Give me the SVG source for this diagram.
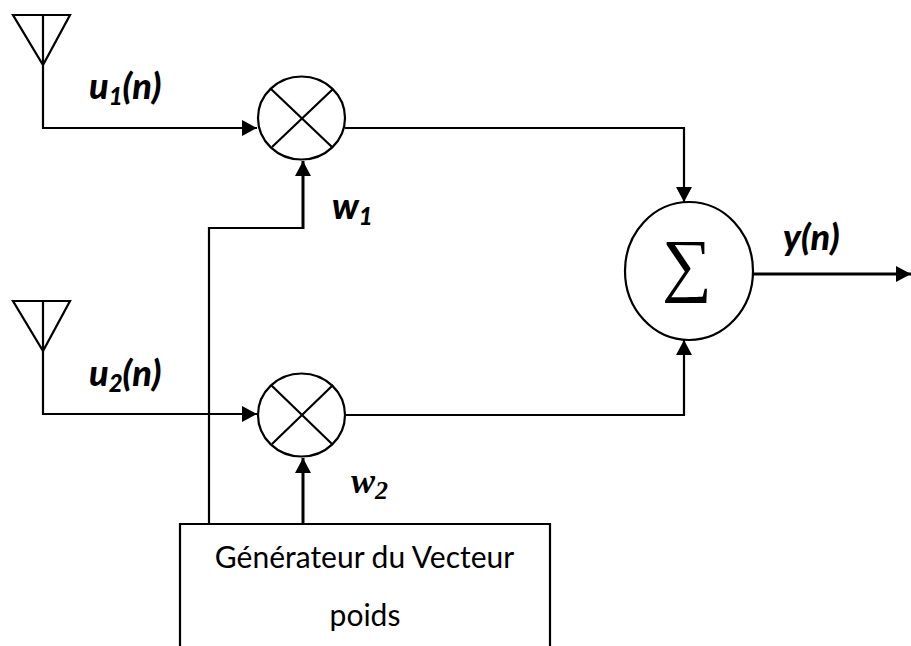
<svg xmlns="http://www.w3.org/2000/svg" width="911" height="646" viewBox="0 0 911 646">
<style>
.l{fill:none;stroke:#000;stroke-width:2.200}
.t{fill:none;stroke:#000;stroke-width:3}
.c{fill:#fff;stroke:#000;stroke-width:2.200}
.b{font-family:Lato,"Open Sans",sans-serif;font-weight:900;font-style:italic;fill:#000}
.s{font-family:"Liberation Serif",serif;font-weight:700;font-style:italic;fill:#000}
.r{font-family:Lato,"Open Sans",sans-serif;font-size:30px;fill:#000;text-anchor:middle}
</style>
<defs><marker id="a" markerUnits="userSpaceOnUse" markerWidth="16" markerHeight="16" refX="15" refY="8" orient="auto"><path d="M0 0L15 8L0 16Z" fill="#000"/></marker></defs>
<g id="connectors">
<path class="l" d="M43 65V128H257" marker-end="url(#a)"/>
<path class="l" d="M43 351V414H257" marker-end="url(#a)"/>
<path class="l" d="M209 524V228H303" />
<path class="t" d="M303 229V161" marker-end="url(#a)"/>
<path class="t" d="M303 524V458" marker-end="url(#a)"/>
<path class="l" d="M345 128H684V202" marker-end="url(#a)"/>
<path class="l" d="M345 415H684V340" marker-end="url(#a)"/>
<path class="t" d="M752 274H911" marker-end="url(#a)"/>
</g>
<g id="antenna1"><path class="l" d="M13 15H70L43 65ZM43 15V65"/></g>
<g id="antenna2"><path class="l" d="M13 301H70L43 351ZM43 301V351"/></g>
<g id="mixer1"><ellipse class="c" cx="301.500" cy="118" rx="43.500" ry="41.500"/><path class="l" d="M271 89L332 147M333 89L272 147"/></g>
<g id="mixer2"><ellipse class="c" cx="301.500" cy="415" rx="43.500" ry="41.500"/><path class="l" d="M271 385L332 444M333 385L272 444"/></g>
<g id="sum"><ellipse class="c" cx="689" cy="271" rx="64" ry="69"/><text x="687" y="288" font-family="Liberation Serif,serif" font-size="70" text-anchor="middle">∑</text></g>
<g id="generator"><path class="c" d="M180 646V524H550V646"/><text class="r" x="364.500" y="568">Générateur du Vecteur</text><text class="r" x="365" y="626">poids</text></g>
<g id="labels">
<text class="b" x="89" y="99" font-size="36">u<tspan font-size="24" dy="6">1</tspan><tspan dy="-6">(n)</tspan></text>
<text class="b" x="89" y="386" font-size="36">u<tspan font-size="24" dy="6">2</tspan><tspan dy="-6">(n)</tspan></text>
<text class="b" x="332" y="219" font-size="36">w<tspan font-size="24" dy="6">1</tspan></text>
<text class="s" x="351" y="493" font-size="36">w<tspan font-size="26" dy="6">2</tspan></text>
<text class="b" x="783" y="250" font-size="36">y(n)</text>
</g>
</svg>
